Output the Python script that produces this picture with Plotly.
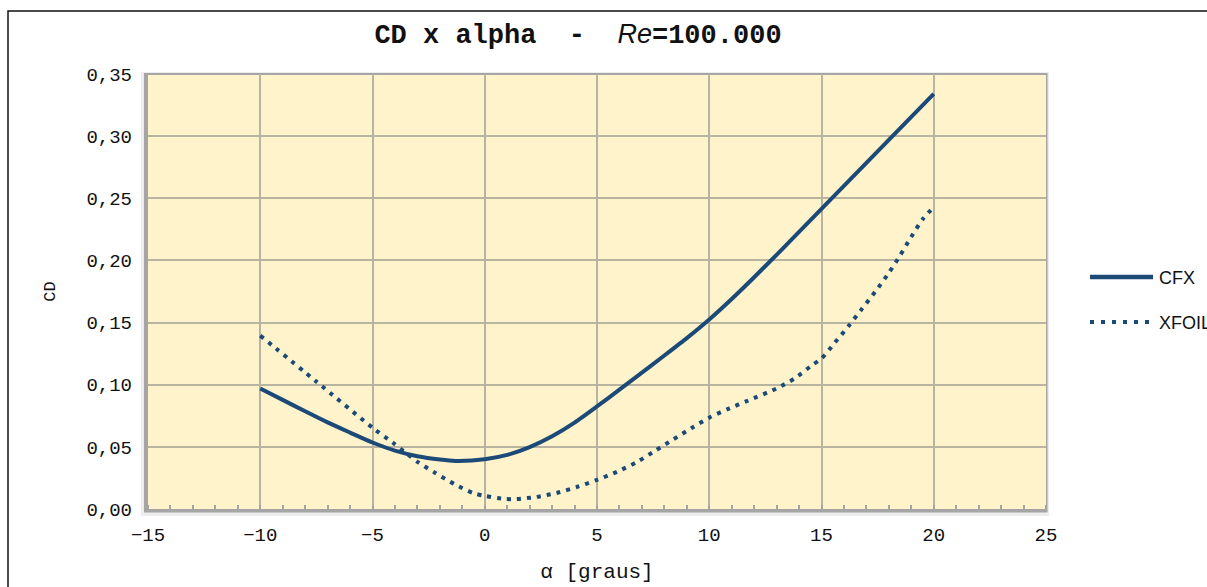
import plotly.graph_objects as go

# ---------------- data ----------------
alpha_cfx = [-10, -9, -8, -7, -6, -5, -4, -3, -2, -1.3, 0, 1, 2, 3, 4, 5, 6, 7, 8, 9,
             10, 11, 12, 13, 14, 15, 17.5, 20]
cd_cfx = [0.0970, 0.0878, 0.0786, 0.0697, 0.0615, 0.0535, 0.0470, 0.0425, 0.0398, 0.0387,
          0.0400, 0.0435, 0.0498, 0.0585, 0.0695, 0.0825, 0.0960, 0.1097, 0.1235, 0.1375,
          0.1525, 0.1690, 0.1865, 0.2045, 0.2230, 0.2415, 0.2878, 0.3340]

alpha_xfoil = [-10, -7.5, -4.9, -4.1, -3.0, -2.2, -1.35, -0.5, 0, 0.9, 1.4, 2.3, 3.2, 4.1,
               5.0, 5.9, 6.8, 7.6, 8.4, 9.2, 10, 10.9, 11.7, 13.0, 13.8, 14.6, 15.0, 15.6,
               16.2, 16.8, 17.4, 18.0, 18.5, 19.0, 19.5, 20]
cd_xfoil = [0.1395, 0.1025, 0.0640, 0.0535, 0.0380, 0.0290, 0.0200, 0.0127, 0.0105, 0.0081,
            0.0080, 0.0097, 0.0129, 0.0177, 0.0234, 0.0300, 0.0380, 0.0470, 0.0560, 0.0650,
            0.0735, 0.0810, 0.0870, 0.0970, 0.1050, 0.1160, 0.1210, 0.1340, 0.1470, 0.1610,
            0.1750, 0.1900, 0.2040, 0.2190, 0.2330, 0.2430]

series_names = ["CFX", "XFOIL"]

x_ticks = [-15, -10, -5, 0, 5, 10, 15, 20, 25]
x_tick_labels = ["\u221215", "\u221210", "\u22125", "0", "5", "10", "15", "20", "25"]
y_ticks = [0.00, 0.05, 0.10, 0.15, 0.20, 0.25, 0.30, 0.35]
y_tick_labels = ["0,00", "0,05", "0,10", "0,15", "0,20", "0,25", "0,30", "0,35"]

title_text = ("<b>CD x alpha\u00a0\u00a0-\u00a0\u00a0</b>"
              "<span style='font-family:Liberation Sans'><i>Re</i></span><b>=100.000</b>")
x_title = "\u03b1 [graus]"
y_title = "CD"

# ---------------- style ----------------
W, H = 1207, 587
L, R, T, B = 148, 1046, 74, 509  # plot area in pixels
LINE_COLOR = "#1C4A78"
BG = "#FEF3CA"
GRID = "#B9B3A1"
TXT = "#111111"


def px(x):
    return (x - L) / (R - L)


def py(y):
    return (B - y) / (B - T)


fig = go.Figure()
fig.add_trace(go.Scatter(
    x=alpha_cfx, y=cd_cfx, mode="lines", name=series_names[0],
    line=dict(color=LINE_COLOR, width=4, shape="spline", smoothing=0.6),
    showlegend=False,
))
fig.add_trace(go.Scatter(
    x=alpha_xfoil, y=cd_xfoil, mode="lines", name=series_names[1],
    line=dict(color=LINE_COLOR, width=4, dash="4px,6px", shape="spline", smoothing=0.7),
    showlegend=False,
))

shapes = [
    # soft shadow
    dict(type="rect", xref="paper", yref="paper", x0=px(141), x1=px(1049), y0=py(516), y1=py(72),
         fillcolor="rgba(0,0,0,0.07)", line=dict(width=0), layer="below"),
    # frame
    dict(type="rect", xref="paper", yref="paper", x0=px(144), x1=px(1047.5), y0=py(512.5), y1=py(73),
         fillcolor="#A5A5A5", line=dict(width=0), layer="below"),
    # plot background
    dict(type="rect", xref="paper", yref="paper", x0=px(148), x1=px(1046), y0=py(509), y1=py(75),
         fillcolor=BG, line=dict(width=0), layer="below"),
    # outer black border of the picture
    dict(type="rect", xref="paper", yref="paper", x0=px(8), x1=px(1215), y0=py(600), y1=py(11),
         fillcolor="rgba(0,0,0,0)", line=dict(width=1.5, color=TXT), layer="below"),
    # legend samples
    dict(type="line", xref="paper", yref="paper", x0=px(1090), x1=px(1153), y0=py(277), y1=py(277),
         line=dict(color=LINE_COLOR, width=4.5)),
    dict(type="line", xref="paper", yref="paper", x0=px(1090), x1=px(1151), y0=py(322), y1=py(322),
         line=dict(color=LINE_COLOR, width=4, dash="4px,7px")),
]

annotations = [
    dict(xref="paper", yref="paper", x=px(1157), y=py(278), xanchor="left", yanchor="middle",
         text=series_names[0], showarrow=False,
         font=dict(family="Liberation Sans", size=18, color=TXT)),
    dict(xref="paper", yref="paper", x=px(1157), y=py(323), xanchor="left", yanchor="middle",
         text=series_names[1], showarrow=False,
         font=dict(family="Liberation Sans", size=18, color=TXT)),
]

fig.update_layout(
    width=W, height=H,
    margin=dict(l=L, r=W - R, t=T, b=H - B, pad=0),
    paper_bgcolor="white",
    plot_bgcolor="rgba(0,0,0,0)",
    showlegend=False,
    title=dict(text=title_text, x=578 / W, xanchor="center", xref="container",
               y=1 - 34 / H, yanchor="middle", yref="container",
               font=dict(family="Liberation Mono", size=27, color=TXT)),
    shapes=shapes,
    annotations=annotations,
    xaxis=dict(
        range=[-15, 25], tickmode="array", tickvals=x_ticks, ticktext=x_tick_labels,
        showgrid=True, gridcolor=GRID, gridwidth=2, zeroline=False, showline=False,
        ticks="", ticklabelstandoff=12, automargin=False,
        tickfont=dict(family="Liberation Mono", size=19, color=TXT),
        minor=dict(ticks="inside", ticklen=4, tickwidth=1.5, tickcolor="#A5A5A5",
                   dtick=1, tick0=0, showgrid=False),
        title=dict(text=x_title, standoff=17,
                   font=dict(family="Liberation Mono", size=21, color=TXT)),
        fixedrange=True,
    ),
    yaxis=dict(
        range=[0, 0.35], tickmode="array", tickvals=y_ticks, ticktext=y_tick_labels,
        showgrid=True, gridcolor=GRID, gridwidth=2, zeroline=False, showline=False,
        ticks="", ticklabelstandoff=15, automargin=False,
        tickfont=dict(family="Liberation Mono", size=19, color=TXT),
        title=dict(text=y_title, standoff=26,
                   font=dict(family="Liberation Mono", size=17, color=TXT)),
        fixedrange=True,
    ),
)

fig.write_html("out.html")
